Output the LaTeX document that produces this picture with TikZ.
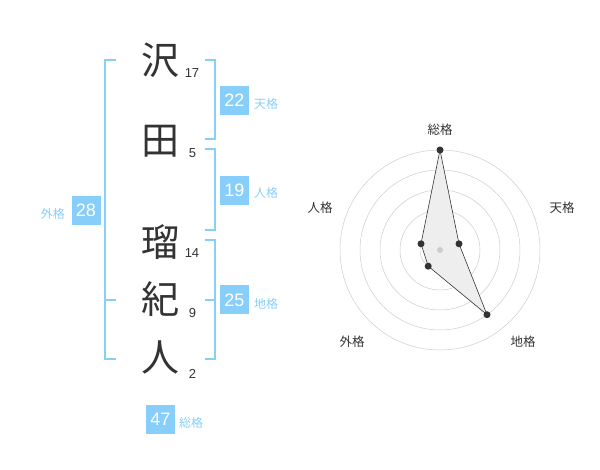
\documentclass[tikz,border=0pt]{standalone}
\usepackage{fontspec}
\setmainfont{Liberation Sans}
\newfontfamily\jp{Noto Sans CJK JP}
\definecolor{kaku}{RGB}{135,206,250}
\definecolor{ink}{RGB}{51,51,51}

\begin{document}
\begin{tikzpicture}[x=1pt, y=-1pt,
  kanji/.style={text=ink, font=\jp\fontsize{38}{38}\selectfont, inner sep=0},
  strokes/.style={text=ink, font=\fontsize{13}{13}\selectfont, inner sep=0},
  box/.style={fill=kaku, text=white, minimum width=29pt, minimum height=29pt, inner sep=0, font=\fontsize{18}{18}\selectfont},
  tag/.style={text=kaku, font=\jp\fontsize{12}{12}\selectfont, inner sep=0},
  brace/.style={draw=kaku, line width=1.5pt},
  ring/.style={draw=gray!40, line width=0.5pt},
  axis/.style={text=ink, font=\jp\fontsize{12.5}{12.5}\selectfont, inner sep=0}]
\useasboundingbox (0,0) rectangle (600,470);

\node[kanji] (k1) at (160, 60) {沢};
\node[kanji] (k2) at (160, 141) {田};
\node[kanji] (k3) at (160, 242) {瑠};
\node[kanji] (k4) at (160, 299) {紀};
\node[kanji] (k5) at (160, 357) {人};
\node[strokes] (n1) at (192, 73) {17};
\node[strokes] (n2) at (192.5, 153) {5};
\node[strokes] (n3) at (192, 253) {14};
\node[strokes] (n4) at (192.5, 313) {9};
\node[strokes] (n5) at (192.5, 374) {2};

\draw[brace] (205, 60) -- (215, 60) -- (215, 139) -- (205, 139);
\draw[brace] (205, 149) -- (215, 149) -- (215, 230) -- (205, 230);
\draw[brace] (205, 240) -- (215, 240) -- (215, 359) -- (205, 359);
\draw[brace] (205, 300) -- (215, 300);
\draw[brace] (116, 60) -- (105, 60) -- (105, 359) -- (116, 359);
\draw[brace] (105, 300) -- (116, 300);

\node[box] (ten) at (234.5, 100.5) {22};
\node[tag, right] (tenlbl) at (254, 104) {天格};
\node[box] (jin) at (234.5, 190.5) {19};
\node[tag, right] (jinlbl) at (254, 193) {人格};
\node[box] (chi) at (234.5, 300) {25};
\node[tag, right] (chilbl) at (254, 304) {地格};
\node[box] (gai) at (86, 210.5) {28};
\node[tag, left] (gailbl) at (65, 213.5) {外格};
\node[box] (sou) at (160.5, 419) {47};
\node[tag, right] (soulbl) at (179, 422.5) {総格};

\coordinate (c) at (440, 250);
\foreach \r in {20, 40, 60, 80, 100}
  \draw[ring] (c) circle[radius=\r pt];
\coordinate (psou) at (440, 150);
\coordinate (pten) at (459, 243.8);
\coordinate (pchi) at (487, 314.7);
\coordinate (pgai) at (428.2, 266.2);
\coordinate (pjin) at (421, 243.8);
\filldraw[fill=gray!13, draw=ink, line width=0.6pt] (psou) -- (pten) -- (pchi) -- (pgai) -- (pjin) -- cycle;
\fill[gray!40] (c) circle[radius=3pt];
\foreach \p in {psou, pten, pchi, pgai, pjin}
  \fill[ink] (\p) circle[radius=3.5pt];

\node[axis] (asou) at (440, 130) {総格};
\node[axis] (aten) at (562, 208) {天格};
\node[axis] (ajin) at (320, 208) {人格};
\node[axis] (agai) at (352, 342) {外格};
\node[axis] (achi) at (523, 342) {地格};

\end{tikzpicture}
\end{document}
